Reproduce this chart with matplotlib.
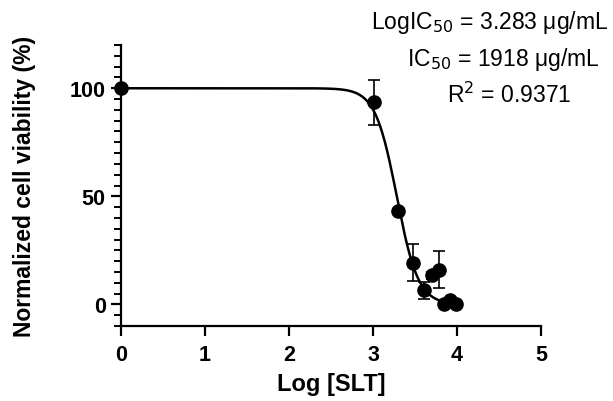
import numpy as np
import matplotlib.pyplot as plt
from matplotlib.ticker import MultipleLocator

plt.rcParams['font.family'] = ['Liberation Sans', 'DejaVu Sans']

# measured points (log concentration, % viability, error)
log_conc = [0.0, 3.01, 3.30, 3.48, 3.61, 3.70, 3.79, 3.85, 3.92, 3.99]
viability = [100.0, 93.5, 43.2, 19.3, 6.5, 13.4, 16.0, 0.4, 2.2, 0.4]
err = [0.0, 10.5, 1.0, 8.5, 4.0, 1.5, 8.5, 0.5, 0.8, 0.5]

# fit parameters
top, bottom = 100.0, 0.0
log_ic50 = 3.283
hill = 3.4

x_fit = np.linspace(0, 4.0, 400)
y_fit = bottom + (top - bottom) / (1 + 10 ** ((x_fit - log_ic50) * hill))

fig = plt.figure(figsize=(6.13, 4.02), dpi=100)
ax = fig.add_axes([0.1974, 0.1865, 0.6851, 0.699])

ax.plot(x_fit, y_fit, color='black', lw=1.8, zorder=2)
ax.errorbar(log_conc, viability, yerr=err, fmt='o', color='black', ms=9.5,
            ecolor='black', elinewidth=1.2, capsize=4.5, capthick=1.2, zorder=3,
            clip_on=False)

ax.set_xlim(0, 5)
ax.set_ylim(-10, 120)
ax.set_xticks([0, 1, 2, 3, 4, 5])
ax.set_yticks([0, 50, 100])
ax.yaxis.set_minor_locator(MultipleLocator(5))

for s in ['top', 'right']:
    ax.spines[s].set_visible(False)
for s in ['left', 'bottom']:
    ax.spines[s].set_linewidth(1.6)

ax.tick_params(axis='both', which='major', length=7, width=1.6, labelsize=15.5, direction='out', pad=4)
ax.tick_params(axis='x', which='major', pad=6)
ax.tick_params(axis='y', which='minor', length=5, width=1.4)
for lab in ax.get_xticklabels() + ax.get_yticklabels():
    lab.set_fontweight('bold')

ax.set_xlabel('Log [SLT]', fontsize=17, fontweight='bold', labelpad=5)
ax.set_ylabel('Normalized cell viability (%)', fontsize=16.5, fontweight='bold', labelpad=24)

fig.text(0.992, 0.945, 'LogIC$_{50}$ = 3.283 μg/mL', ha='right', va='center', fontsize=16.5)
fig.text(0.978, 0.853, 'IC$_{50}$ = 1918 μg/mL', ha='right', va='center', fontsize=16.5)
fig.text(0.932, 0.763, 'R$^2$ = 0.9371', ha='right', va='center', fontsize=16.5)

fig.savefig('out.png', dpi=100)
